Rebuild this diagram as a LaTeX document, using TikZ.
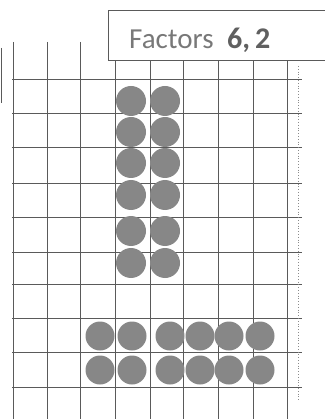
\documentclass[tikz,border=0pt]{standalone}
\usepackage{fontspec}
\setmainfont{Carlito}
\usepackage{xcolor}
\usepackage{tikz}

\definecolor{inkgray}{RGB}{90,90,90}
\definecolor{dotgray}{RGB}{135,135,135}
\definecolor{textgray}{RGB}{120,120,120}

\begin{document}
\begin{tikzpicture}[x=1pt, y=-1pt,
  gridline/.style={inkgray, line width=0.8pt},
  counter/.style={fill=dotgray}]

\useasboundingbox (0,0) rectangle (324,419);

% grid
\foreach \x in {13,47,80} \draw[gridline] (\x,42) -- (\x,419);
\foreach \x in {115,150,183,218,253,287} \draw[gridline] (\x,60) -- (\x,419);
\foreach \y in {79,113,147,183,217,252,284,318,352,387} \draw[gridline] (12,\y) -- (302,\y);
\draw[inkgray!70, dotted, line width=0.8pt] (298,66) -- (298,400);
\draw[inkgray, line width=0.9pt] (1,48) -- (1,103);

% counters
\foreach \y in {101,132,163,195,231,263} {
  \fill[counter] (131,\y) circle (15);
  \fill[counter] (165,\y) circle (15);
}
\foreach \x in {100,132,170,200,229,260} {
  \fill[counter] (\x,336) circle (14.5);
  \fill[counter] (\x,370) circle (14.5);
}

% label box
\draw[inkgray, line width=0.8pt, fill=white] (108,10) rectangle (330,60);
\node[anchor=base west, inner sep=0pt, textgray, font=\fontsize{29}{33}\selectfont] (factors) at (129,49) {Factors};
\node[anchor=base west, inner sep=0pt, textgray!80!black, font=\fontsize{30}{34}\selectfont\bfseries] (values) at (227,49) {6,\,2};

\end{tikzpicture}
\end{document}
